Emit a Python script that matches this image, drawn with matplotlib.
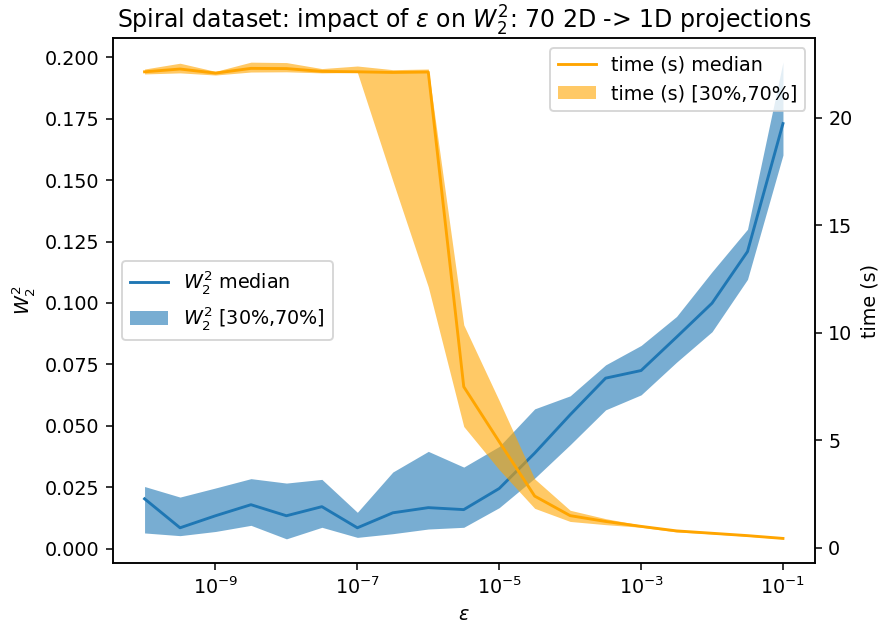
import matplotlib
matplotlib.use("Agg")
import matplotlib.pyplot as plt
import matplotlib.ticker as ticker
import numpy as np

# regularisation values, half-decade steps
eps = np.logspace(-10, -1, 19)

# W2^2 over the projections: median and 30/70 percentiles
w2_med = [0.0203, 0.0085, 0.0134, 0.0179, 0.0134, 0.0171, 0.0085, 0.0146, 0.0167, 0.0159,
          0.0245, 0.0389, 0.0545, 0.0694, 0.0725, 0.0861, 0.0999, 0.1209, 0.1730]
w2_hi = [0.0253, 0.0210, 0.0247, 0.0285, 0.0267, 0.0282, 0.0148, 0.0312, 0.0396, 0.0332,
         0.0416, 0.0569, 0.0622, 0.0748, 0.0827, 0.0945, 0.1127, 0.1300, 0.1980]
w2_lo = [0.0064, 0.0053, 0.0070, 0.0095, 0.0040, 0.0087, 0.0046, 0.0061, 0.0080, 0.0087,
         0.0167, 0.0287, 0.0423, 0.0565, 0.0626, 0.0759, 0.0883, 0.1096, 0.1602]

# run time in seconds
time_med = [22.15, 22.28, 22.09, 22.31, 22.30, 22.17, 22.15, 22.12, 22.14, 7.49,
            4.93, 2.40, 1.49, 1.22, 0.99, 0.78, 0.67, 0.56, 0.43]
time_hi = [22.28, 22.55, 22.17, 22.60, 22.58, 22.30, 22.42, 22.25, 22.28, 10.37,
           6.84, 3.20, 1.74, 1.35, 1.05, 0.82, 0.70, 0.59, 0.45]
time_lo = [22.05, 22.10, 22.00, 22.14, 22.15, 22.10, 22.12, 17.07, 12.14, 5.64,
           3.63, 1.83, 1.22, 1.07, 0.95, 0.73, 0.64, 0.53, 0.41]

fig, ax = plt.subplots(figsize=(6.4, 6.4 * 628 / 880), dpi=137.5)
fig.subplots_adjust(left=0.128, right=0.926, top=0.939, bottom=0.104)

ax.plot(eps, w2_med, color="tab:blue", label="$W_2^2$ median")
ax.fill_between(eps, w2_lo, w2_hi, color="tab:blue", alpha=0.6, linewidth=0,
                label="$W_2^2$ [30%,70%]")
ax.set_xscale("log")
ax.set_xticks([1e-9, 1e-7, 1e-5, 1e-3, 1e-1])
ax.xaxis.set_minor_locator(ticker.NullLocator())
ax.set_xlabel(r"$\varepsilon$")
ax.set_ylabel("$W_2^2$")
ax.legend(loc="center left")

ax2 = ax.twinx()
ax2.plot(eps, time_med, color="orange", label="time (s) median")
ax2.fill_between(eps, time_lo, time_hi, color="orange", alpha=0.6, linewidth=0,
                 label="time (s) [30%,70%]")
ax2.set_ylabel("time (s)")
ax2.legend(loc="upper right")

ax.set_title(r"Spiral dataset: impact of $\varepsilon$ on $W_2^2$: 70 2D -> 1D projections",
             fontsize=12.4, pad=4)

plt.savefig("out.png", dpi=137.5)
